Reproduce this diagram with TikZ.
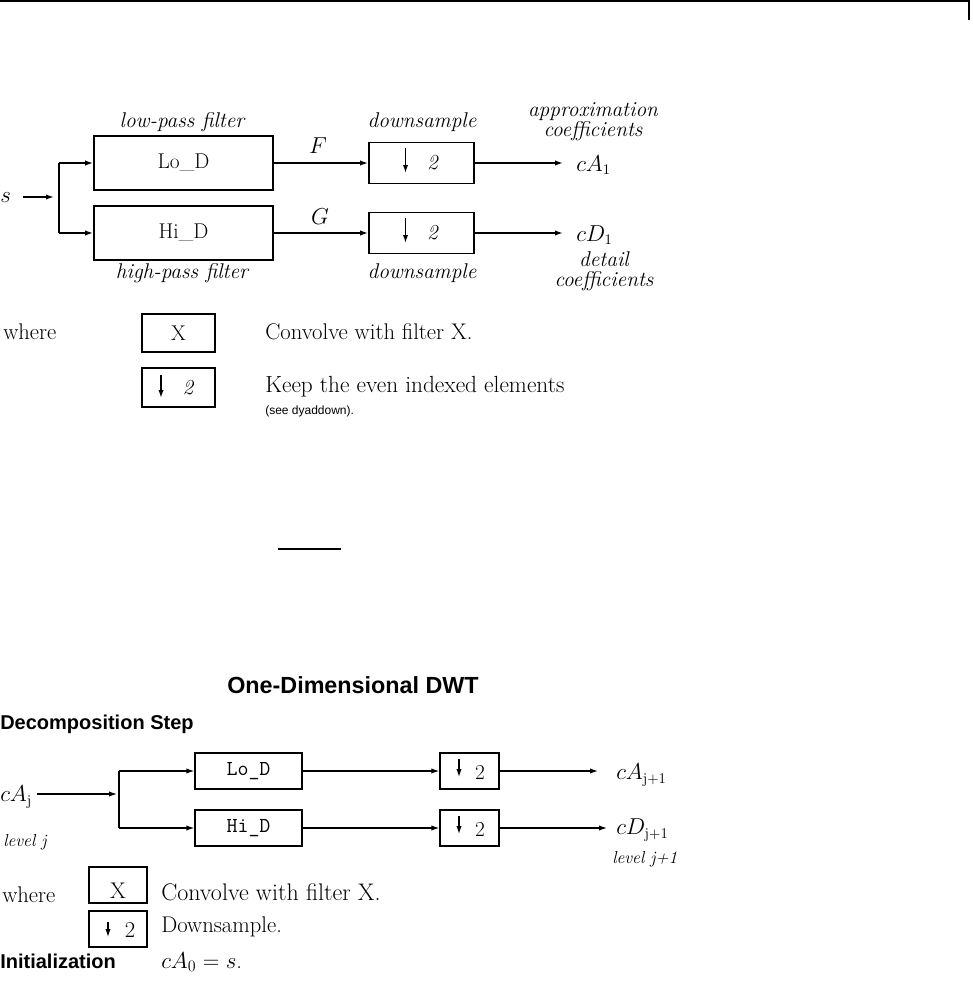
\documentclass[tikz,border=0pt]{standalone}
\usepackage{fontspec}
\newfontfamily\helv{Liberation Sans}
\usetikzlibrary{arrows.meta,calc}
\begin{document}
\begin{tikzpicture}[x=0.75pt,y=-0.75pt,
  tl/.style={line width=1.1pt},
  ta/.style={line width=1.1pt,-{Latex[length=6pt,width=4pt]}},
  bl/.style={line width=0.9pt},
  ba/.style={line width=0.9pt,-{Latex[length=6pt,width=4pt]}},
  tbox/.style={draw,line width=1.3pt,inner sep=0pt,font=\fontsize{16}{19}\selectfont},
  bbox/.style={draw,line width=1pt,inner sep=0pt,font=\fontsize{17}{20}\selectfont},
  rmtext/.style={font=\fontsize{16}{19}\selectfont,inner sep=0pt},
  legtext/.style={font=\fontsize{17}{20}\selectfont,inner sep=0pt},
  ittext/.style={font=\fontsize{16}{15}\selectfont\itshape,inner sep=0pt,align=center},
  smit/.style={font=\fontsize{13}{15}\selectfont\itshape,inner sep=0pt},
  hbold/.style={font=\helv\bfseries\fontsize{15}{18}\selectfont,inner sep=0pt},
]
\useasboundingbox (0,0) rectangle (973,981);

% page header rule
\coordinate (hl) at (0,1);
\coordinate (hr) at (969,1);
\coordinate (hb) at (969,20);
\draw[line width=1.5pt] (hl) -- (hr) -- (hb);

% ---------- top diagram ----------
\node[tbox,minimum width=134.25pt,minimum height=40.5pt] (lo) at (183.5,163) {Lo\_D};
\node[tbox,minimum width=134.25pt,minimum height=40.5pt] (hi) at (183.5,233) {Hi\_D};
\node[tbox,minimum width=78.75pt,minimum height=30.75pt] (ds1) at (421.5,163) {};
\node[tbox,minimum width=78.75pt,minimum height=30.75pt] (ds2) at (421.5,233) {};
\foreach \b in {ds1,ds2}{
  \draw[ta] ($(\b.center)+(-16,-15)$) -- ($(\b.center)+(-16,10)$);
  \node[rmtext,font=\fontsize{16}{19}\selectfont\itshape] at ($(\b.center)+(11,0)$) {2};
}
\node[ittext] (lpf) at (182,122) {low-pass filter};
\node[ittext] (hpf) at (182,273) {high-pass filter};
\node[ittext] (dsl1) at (422,122) {downsample};
\node[ittext] (dsl2) at (422,273) {downsample};
\node[ittext] (apx) at (593,122) {approximation\\coefficients};
\node[ittext] (det) at (604,271) {detail\\coefficients};
\node[rmtext] (F) at (318,146) {$F$};
\node[rmtext] (G) at (320,217) {$G$};
\node[rmtext,anchor=west] (s) at (0,198) {$s$};
\node[rmtext,anchor=west] (cA1) at (576,165) {$cA_1$};
\node[rmtext,anchor=west] (cD1) at (576,235) {$cD_1$};

\coordinate (sin) at (23,197);
\coordinate (sinEnd) at (54,197);
\coordinate (spT) at (59,163);
\coordinate (spB) at (59,233);
\coordinate (aEnd) at (563,163);
\coordinate (dEnd) at (563,233);
\draw[ta] (sin) -- (sinEnd);
\draw[tl] (spT) -- (spB);
\draw[ta] (spT) -- (lo.west);
\draw[ta] (spB) -- (hi.west);
\draw[ta] (lo.east) -- (ds1.west);
\draw[ta] (hi.east) -- (ds2.west);
\draw[ta] (ds1.east) -- (aEnd);
\draw[ta] (ds2.east) -- (dEnd);

% top legend
\node[legtext,anchor=west] (wh1) at (3,332) {where};
\node[tbox,minimum width=54.75pt,minimum height=28.5pt] (lgX) at (178.5,333) {X};
\node[tbox,minimum width=54.75pt,minimum height=29.25pt] (lgD) at (178.5,387.5) {};
\draw[ta] ($(lgD.center)+(-17.5,-12.5)$) -- ($(lgD.center)+(-17.5,10.5)$);
\node[rmtext,font=\fontsize{16}{19}\selectfont\itshape] at ($(lgD.center)+(9.5,0)$) {2};
\node[legtext,anchor=west] (cv1) at (265,332) {Convolve with filter X.};
\node[legtext,anchor=west,font=\fontsize{17.5}{20}\selectfont] (kp1) at (265,387) {Keep the even indexed elements};
\node[anchor=west,inner sep=0pt,font=\helv\fontsize{9}{11}\selectfont] (see1) at (265,411) {(see dyaddown).};

% underline
\coordinate (ul1) at (278,549);
\coordinate (ul2) at (341,549);
\draw[line width=1.3pt] (ul1) -- (ul2);

% ---------- bottom diagram ----------
\node[hbold,anchor=west,font=\helv\bfseries\fontsize{17.5}{20}\selectfont] (title) at (227,685) {One-Dimensional DWT};
\node[hbold,anchor=west] (dstep) at (0,724) {Decomposition Step};

\node[bbox,font=\ttfamily\fontsize{16}{19}\selectfont,minimum width=80.25pt,minimum height=27pt] (blo) at (248.5,771) {Lo\_D};
\node[bbox,font=\ttfamily\fontsize{16}{19}\selectfont,minimum width=80.25pt,minimum height=27pt] (bhi) at (248.5,828) {Hi\_D};
\node[bbox,minimum width=44.25pt,minimum height=27pt] (bds1) at (469.5,771) {};
\node[bbox,minimum width=44.25pt,minimum height=27pt] (bds2) at (469.5,828) {};
\foreach \b in {bds1,bds2}{
  \draw[ba] ($(\b.center)+(-10.5,-12)$) -- ($(\b.center)+(-10.5,6)$);
  \node[rmtext] at ($(\b.center)+(10.5,1)$) {2};
}
\node[rmtext,anchor=west] (cAj) at (0,797) {$cA_{\mathrm{j}}$};
\node[smit,anchor=west] (lvj) at (3,842) {level j};
\node[rmtext,anchor=west] (cAj1) at (616,775) {$cA_{\mathrm{j+1}}$};
\node[rmtext,anchor=west] (cDj1) at (616,830) {$cD_{\mathrm{j+1}}$};
\node[smit,anchor=west] (lvj1) at (612,859) {level j+1};

\coordinate (cin) at (37,794);
\coordinate (cinEnd) at (117,794);
\coordinate (bsT) at (119,771);
\coordinate (bsB) at (119,828);
\coordinate (bAEnd) at (598,771);
\coordinate (bDEnd) at (607,828);
\draw[ba] (cin) -- (cinEnd);
\draw[bl] (bsT) -- (bsB);
\draw[ba] (bsT) -- (blo.west);
\draw[ba] (bsB) -- (bhi.west);
\draw[ba] (blo.east) -- (bds1.west);
\draw[ba] (bhi.east) -- (bds2.west);
\draw[ba] (bds1.east) -- (bAEnd);
\draw[ba] (bds2.east) -- (bDEnd);

% bottom legend
\node[legtext,anchor=west] (wh2) at (2,895) {where};
\node[bbox,minimum width=43.5pt,minimum height=27pt] (blgX) at (118,885) {};
\node[legtext] (blgXt) at ($(blgX.center)+(0,6)$) {X};
\node[bbox,minimum width=43.5pt,minimum height=27pt] (blgD) at (118,929) {};
\draw[ba] ($(blgD.center)+(-10,-7)$) -- ($(blgD.center)+(-10,8)$);
\node[legtext] at ($(blgD.center)+(12,1)$) {2};
\node[legtext,anchor=west,font=\fontsize{18}{20}\selectfont] (cv2) at (161,892) {Convolve with filter X.};
\node[legtext,anchor=west] (dn2) at (161,927) {Downsample.};
\node[hbold,anchor=west] (init) at (0,961) {Initialization};
\node[legtext,anchor=west] (ca0) at (161,962) {$cA_0 = s$.};
\end{tikzpicture}
\end{document}
